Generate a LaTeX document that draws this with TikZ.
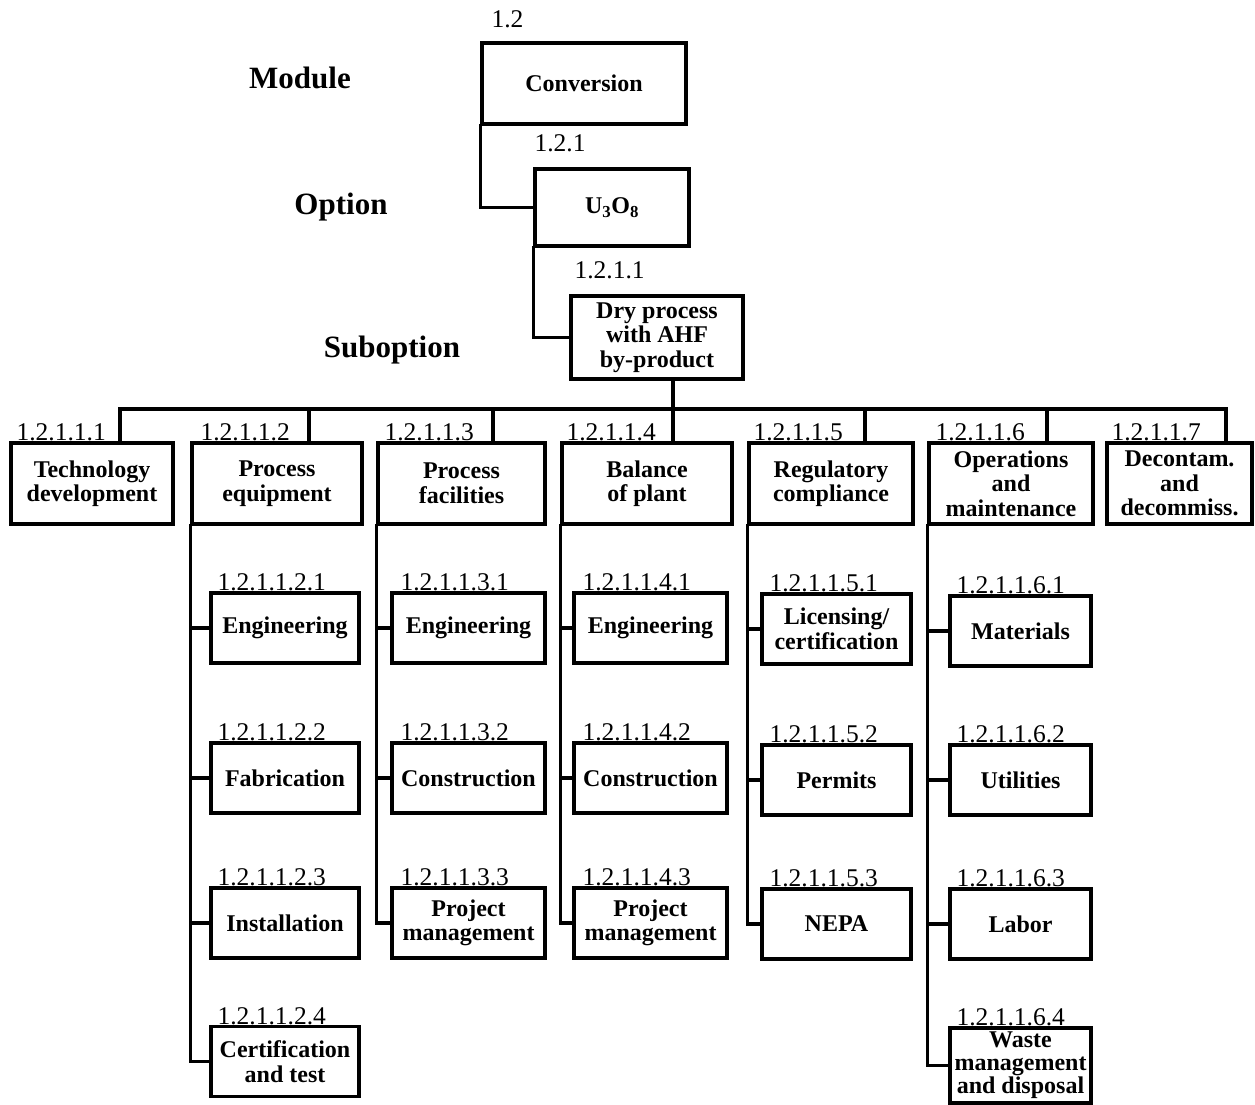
\documentclass[tikz,border=0pt]{standalone}
\usepackage{fontspec}
\setmainfont{Liberation Serif}
\usetikzlibrary{positioning}
\newcommand{\wbsboxfont}{\fontsize{24}{24.5}\selectfont\bfseries}
\newcommand{\wbscodefont}{\fontsize{25.5}{27}\selectfont}
\newcommand{\wbslevelfont}{\fontsize{31}{33}\selectfont\bfseries}
\tikzset{
    wbsbox/.style={draw, line width=3.3pt, inner sep=0pt, align=center, font=\wbsboxfont},
    topbox/.style={wbsbox, minimum width=#1, minimum height=81},
    midbox/.style={wbsbox, minimum width=#1, minimum height=81},
    leafbox/.style={wbsbox, minimum width=#1, minimum height=70},
    wbscode/.style={inner sep=0pt, font=\wbscodefont},
    levellabel/.style={font=\wbslevelfont},
    wbsline/.style={line width=3.3pt, line cap=rect}
}

\begin{document}
\begin{tikzpicture}[x=1pt, y=-1pt]
            \useasboundingbox (0,0) rectangle (1255,1105);

            % ---------- Top: module, option, suboption ----------
            \node[levellabel] (lmod) at (300,78) {Module};
            \node[levellabel] (lopt) at (341,207) {Option};
            \node[levellabel] (lsub) at (392,350) {Suboption};

            \node[topbox=204] (conv) at (584,83.5) {Conversion};
            \node[topbox=154, minimum height=77] (u) at (612,207.5) {U\textsubscript{3}O\textsubscript{8}};
            \node[topbox=172, minimum height=83] (dry) at (657,337.5) {Dry process\\with AHF\\by-product};

            \node[wbscode, above right=13pt and 11pt of conv.north west] (nconv) {1.2};
            \node[wbscode, above right=15pt and 1pt of u.north west] (nu) {1.2.1};
            \node[wbscode, above right=15pt and 5pt of dry.north west] (ndry) {1.2.1.1};

            \draw[wbsline] (conv.south west) |- (u.west);
            \draw[wbsline] (u.south west) |- (dry.west);

            % ---------- Second row: elements ----------
            \node[midbox=162] (t)  at (92,483.5)    {Technology\\development};
            \node[midbox=170] (pe) at (277,483.5)   {Process\\equipment};
            \node[midbox=167] (pf) at (461.5,483.5) {Process\\facilities};
            \node[midbox=170] (bp) at (647,483.5)   {Balance\\of plant};
            \node[midbox=164] (rc) at (831,483.5)   {Regulatory\\compliance};
            \node[midbox=164] (om) at (1011,483.5)  {Operations\\and\\maintenance};
            \node[midbox=145] (dd) at (1179.5,483.5) {Decontam.\\and\\decommiss.};

            \node[wbscode, above right=0pt and 7pt of t.north west]  (nt)  {1.2.1.1.1};
            \node[wbscode, above right=0pt and 10pt of pe.north west] (npe) {1.2.1.1.2};
            \node[wbscode, above right=0pt and 8pt of pf.north west] (npf) {1.2.1.1.3};
            \node[wbscode, above right=0pt and 6pt of bp.north west] (nbp) {1.2.1.1.4};
            \node[wbscode, above right=0pt and 6pt of rc.north west] (nrc) {1.2.1.1.5};
            \node[wbscode, above right=0pt and 8pt of om.north west] (nom) {1.2.1.1.6};
            \node[wbscode, above right=0pt and 6pt of dd.north west] (ndd) {1.2.1.1.7};

            \coordinate (d1) at (120,409);
            \coordinate (d2) at (309,409);
            \coordinate (d3) at (493,409);
            \coordinate (d4) at (673,409);
            \coordinate (d5) at (865,409);
            \coordinate (d6) at (1047,409);
            \coordinate (d7) at (1226,409);

            \draw[wbsline] (d1) -- (d7);
            \draw[wbsline] (dry.south -| d4) -- (d4);
            \draw[wbsline] (d1) -- (d1 |- t.north);
            \draw[wbsline] (d2) -- (d2 |- pe.north);
            \draw[wbsline] (d3) -- (d3 |- pf.north);
            \draw[wbsline] (d4) -- (d4 |- bp.north);
            \draw[wbsline] (d5) -- (d5 |- rc.north);
            \draw[wbsline] (d6) -- (d6 |- om.north);
            \draw[wbsline] (d7) -- (d7 |- dd.north);

            % ---------- Process equipment ----------
            \node[leafbox=148] (pe1) at (285,628)    {Engineering};
            \node[leafbox=148] (pe2) at (285,778)    {Fabrication};
            \node[leafbox=148] (pe3) at (285,923)    {Installation};
            \node[leafbox=148] (pe4) at (285,1061.5) {Certification\\and test};

            \node[wbscode, above right=0pt and 8pt of pe1.north west] {1.2.1.1.2.1};
            \node[wbscode, above right=0pt and 8pt of pe2.north west] {1.2.1.1.2.2};
            \node[wbscode, above right=0pt and 8pt of pe3.north west] {1.2.1.1.2.3};
            \node[wbscode, above right=0pt and 8pt of pe4.north west] {1.2.1.1.2.4};

            \draw[wbsline] (pe.south west) |- (pe1.west);
            \draw[wbsline] (pe.south west) |- (pe2.west);
            \draw[wbsline] (pe.south west) |- (pe3.west);
            \draw[wbsline] (pe.south west) |- (pe4.west);

            % ---------- Process facilities ----------
            \node[leafbox=153] (pf1) at (468.5,628) {Engineering};
            \node[leafbox=153] (pf2) at (468.5,778) {Construction};
            \node[leafbox=153] (pf3) at (468.5,923) {Project\\management};

            \node[wbscode, above right=0pt and 10pt of pf1.north west] {1.2.1.1.3.1};
            \node[wbscode, above right=0pt and 10pt of pf2.north west] {1.2.1.1.3.2};
            \node[wbscode, above right=0pt and 10pt of pf3.north west] {1.2.1.1.3.3};

            \draw[wbsline] (pf.south west) |- (pf1.west);
            \draw[wbsline] (pf.south west) |- (pf2.west);
            \draw[wbsline] (pf.south west) |- (pf3.west);

            % ---------- Balance of plant ----------
            \node[leafbox=153] (bp1) at (650.5,628) {Engineering};
            \node[leafbox=153] (bp2) at (650.5,778) {Construction};
            \node[leafbox=153] (bp3) at (650.5,923) {Project\\management};

            \node[wbscode, above right=0pt and 10pt of bp1.north west] {1.2.1.1.4.1};
            \node[wbscode, above right=0pt and 10pt of bp2.north west] {1.2.1.1.4.2};
            \node[wbscode, above right=0pt and 10pt of bp3.north west] {1.2.1.1.4.3};

            \draw[wbsline] (bp.south west) |- (bp1.west);
            \draw[wbsline] (bp.south west) |- (bp2.west);
            \draw[wbsline] (bp.south west) |- (bp3.west);

            % ---------- Regulatory compliance ----------
            \node[leafbox=149] (rc1) at (836.5,629) {Licensing/\\certification};
            \node[leafbox=149] (rc2) at (836.5,780) {Permits};
            \node[leafbox=149] (rc3) at (836.5,924) {NEPA};

            \node[wbscode, above right=0pt and 9pt of rc1.north west] {1.2.1.1.5.1};
            \node[wbscode, above right=0pt and 9pt of rc2.north west] {1.2.1.1.5.2};
            \node[wbscode, above right=0pt and 9pt of rc3.north west] {1.2.1.1.5.3};

            \draw[wbsline] (rc.south west) |- (rc1.west);
            \draw[wbsline] (rc.south west) |- (rc2.west);
            \draw[wbsline] (rc.south west) |- (rc3.west);

            % ---------- Operations and maintenance ----------
            \node[leafbox=141] (om1) at (1020.5,631)  {Materials};
            \node[leafbox=141] (om2) at (1020.5,780)  {Utilities};
            \node[leafbox=141] (om3) at (1020.5,924)  {Labor};
            \node[leafbox=141, minimum height=75, font=\fontsize{24}{23}\selectfont\bfseries] (om4) at (1020.5,1065.5) {Waste\\management\\and disposal};

            \node[wbscode, above right=0pt and 8pt of om1.north west] {1.2.1.1.6.1};
            \node[wbscode, above right=0pt and 8pt of om2.north west] {1.2.1.1.6.2};
            \node[wbscode, above right=0pt and 8pt of om3.north west] {1.2.1.1.6.3};
            \node[wbscode, above right=0pt and 8pt of om4.north west] {1.2.1.1.6.4};

            \draw[wbsline] (om.south west) |- (om1.west);
            \draw[wbsline] (om.south west) |- (om2.west);
            \draw[wbsline] (om.south west) |- (om3.west);
            \draw[wbsline] (om.south west) |- (om4.west);
        \end{tikzpicture}
\end{document}
